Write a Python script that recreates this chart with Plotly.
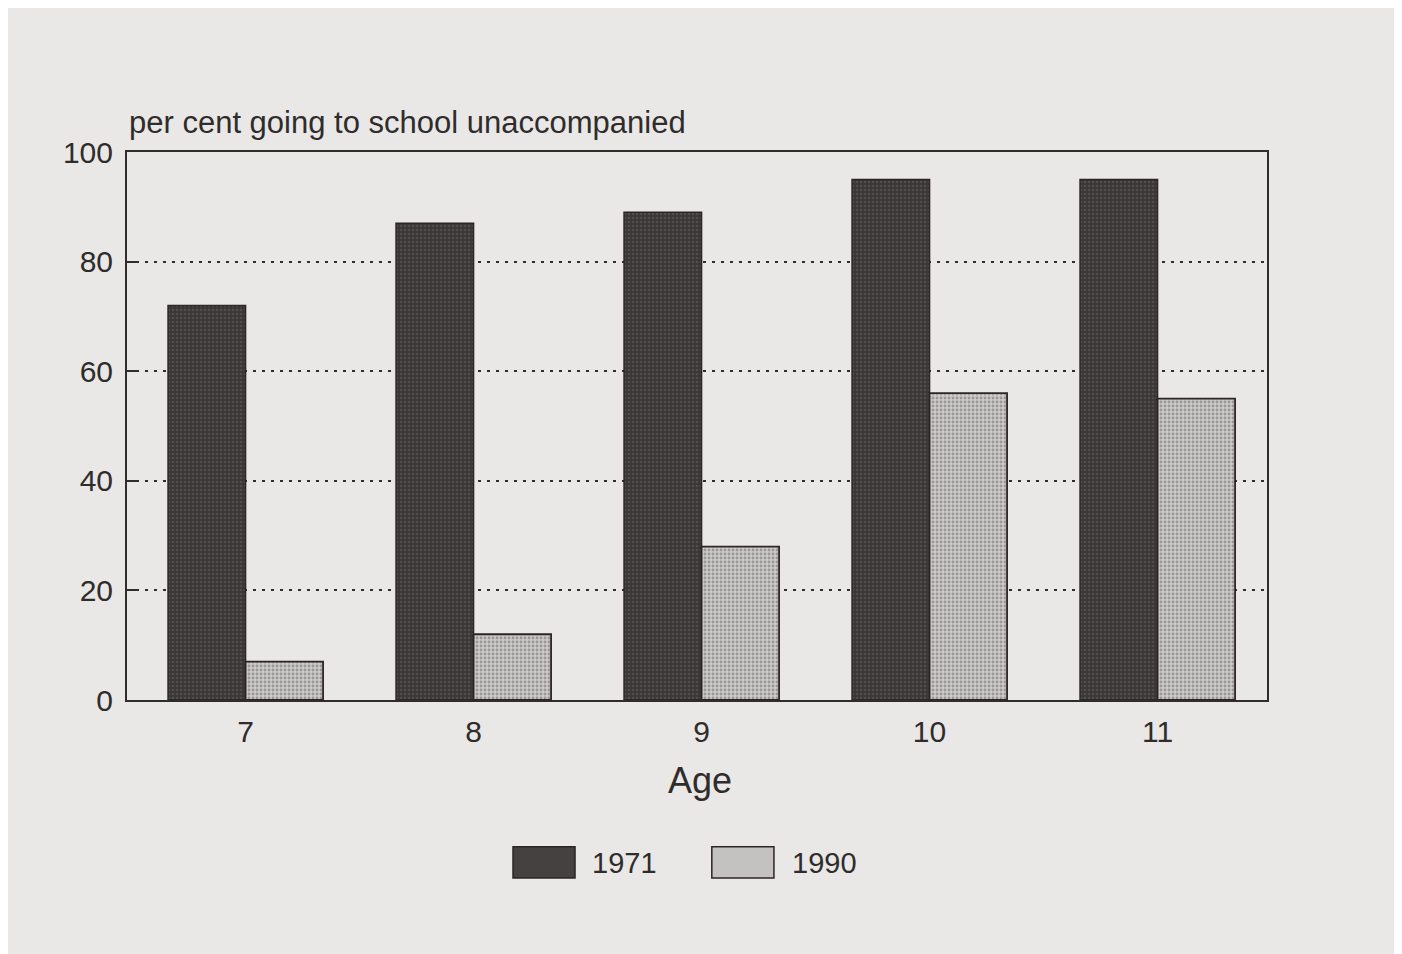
import plotly.graph_objects as go

ages = ["7", "8", "9", "10", "11"]
y1971 = [72, 87, 89, 95, 95]
y1990 = [7, 12, 28, 56, 55]
y_ticks = [0, 20, 40, 60, 80, 100]

PAPER = "#e9e8e6"
INK = "#2f2c2c"
FONT = "Liberation Sans, Arial, sans-serif"

fig = go.Figure()
fig.add_trace(go.Bar(
    x=ages, y=y1971, name="1971",
    marker=dict(color="#3a3636", line=dict(color="#2a2626", width=1.5),
                pattern=dict(shape=".", bgcolor="#3a3636", fgcolor="#6a6666",
                             size=4, solidity=0.35)),
    showlegend=False,
))
fig.add_trace(go.Bar(
    x=ages, y=y1990, name="1990",
    marker=dict(color="#c9c7c5", line=dict(color="#2a2626", width=1.8),
                pattern=dict(shape=".", bgcolor="#cdcbc9", fgcolor="#666363",
                             size=4, solidity=0.4)),
    showlegend=False,
))

fig.update_layout(
    width=1402, height=954,
    paper_bgcolor=PAPER, plot_bgcolor=PAPER,
    margin=dict(l=119, r=143, t=144, b=262),
    barmode="group", bargap=0.32, bargroupgap=0,
    font=dict(family=FONT, color=INK, size=30),
    xaxis=dict(
        type="category", range=[-0.52, 4.48],
        showline=True, linecolor=INK, linewidth=2, mirror=True,
        showgrid=False, ticks="", tickfont=dict(size=30),
        ticklabelstandoff=4,
    ),
    yaxis=dict(
        range=[0, 100], tickvals=y_ticks,
        showline=True, linecolor=INK, linewidth=2, mirror=True,
        showgrid=True, gridcolor=INK, griddash="3px,6px", gridwidth=2,
        ticks="inside", ticklen=9, tickwidth=2, tickcolor=INK,
        tickfont=dict(size=30), zeroline=False, ticklabelstandoff=6,
    ),
    shapes=[
        dict(type="rect", xref="paper", yref="paper",
             x0=0.3386, x1=0.393, y0=-0.3248, y1=-0.268,
             fillcolor="#454141", line=dict(color="#2a2626", width=1.5)),
        dict(type="rect", xref="paper", yref="paper",
             x0=0.513, x1=0.5675, y0=-0.3248, y1=-0.268,
             fillcolor="#c4c2c0", line=dict(color="#2a2626", width=1.5)),
    ],
    annotations=[
        dict(text="per cent going to school unaccompanied", xref="paper", yref="paper",
             x=0, y=1.053, xanchor="left", yanchor="middle", showarrow=False,
             font=dict(size=31)),
        dict(text="Age", xref="paper", yref="paper", x=0.5026, y=-0.146,
             xanchor="center", yanchor="middle", showarrow=False, font=dict(size=36)),
        dict(text="1971", xref="paper", yref="paper", x=0.406, y=-0.297,
             xanchor="left", yanchor="middle", showarrow=False, font=dict(size=29)),
        dict(text="1990", xref="paper", yref="paper", x=0.5816, y=-0.297,
             xanchor="left", yanchor="middle", showarrow=False, font=dict(size=29)),
    ],
)

fig.write_html("out.html")
